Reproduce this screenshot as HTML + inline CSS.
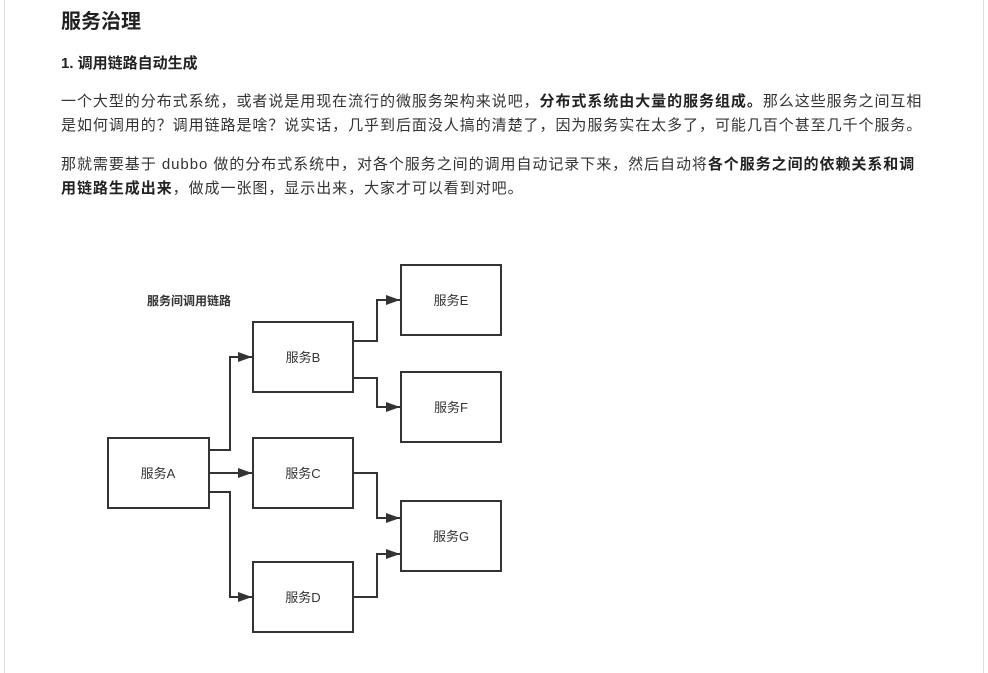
<!DOCTYPE html>
<html><head><meta charset="utf-8"><style>
body{margin:0;width:988px;height:673px;background:#fff;position:relative;overflow:hidden;font-family:"Liberation Sans","Noto Sans CJK SC",sans-serif;color:#333}
.bl{position:absolute;left:4px;top:0;width:1px;height:673px;background:#ddd}
.br{position:absolute;left:983px;top:0;width:1px;height:673px;background:#ddd}
.t{position:absolute;left:61px;white-space:nowrap}
b{color:#222}
</style></head><body>
<div class="bl"></div><div class="br"></div>
<div class="t" style="top:5px;font-size:20px;font-weight:bold;color:#222">服务治理</div>
<div class="t" style="top:52px;font-size:15px;font-weight:bold;color:#222">1. 调用链路自动生成</div>
<div class="t" style="top:90px;font-size:15px;line-height:24px;letter-spacing:0.95px">一个大型的分布式系统，或者说是用现在流行的微服务架构来说吧，<b>分布式系统由大量的服务组成。</b>那么这些服务之间互相<br>是如何调用的？调用链路是啥？说实话，几乎到后面没人搞的清楚了，因为服务实在太多了，可能几百个甚至几千个服务。</div>
<div class="t" style="top:153px;font-size:15px;line-height:24px;letter-spacing:0.95px">那就需要基于 dubbo 做的分布式系统中，对各个服务之间的调用自动记录下来，然后自动将<b>各个服务之间的依赖关系和调<br>用链路生成出来</b>，做成一张图，显示出来，大家才可以看到对吧。</div>
<svg style="position:absolute;left:0;top:0" width="988" height="673">
<defs><marker id="a" markerWidth="14" markerHeight="10" refX="14" refY="5" orient="auto" markerUnits="userSpaceOnUse"><path d="M0,0L14,5L0,10z" fill="#333"/></marker></defs>
<g fill="#fff" stroke="#333" stroke-width="2">
<rect x="108" y="438" width="101" height="70"/>
<rect x="253" y="322" width="100" height="70"/>
<rect x="253" y="438" width="100" height="70"/>
<rect x="253" y="562" width="100" height="70"/>
<rect x="401" y="265" width="100" height="70"/>
<rect x="401" y="372" width="100" height="70"/>
<rect x="401" y="501" width="100" height="70"/>
</g>
<g fill="none" stroke="#333" stroke-width="2" marker-end="url(#a)">
<path d="M209,450H230V357H252"/>
<path d="M209,473H252"/>
<path d="M209,492H230V597H252"/>
<path d="M353,341H377V300H400"/>
<path d="M353,378H377V407H400"/>
<path d="M353,473H377V518H400"/>
<path d="M353,597H377V554H400"/>
</g>
<g font-size="13" fill="#333" text-anchor="middle" font-family="Liberation Sans,Noto Sans CJK SC,sans-serif">
<text x="158" y="478">服务A</text>
<text x="303" y="362">服务B</text>
<text x="303" y="478">服务C</text>
<text x="303" y="602">服务D</text>
<text x="451" y="305">服务E</text>
<text x="451" y="412">服务F</text>
<text x="451" y="541">服务G</text>
<text x="189" y="305" font-size="12" font-weight="bold">服务间调用链路</text>
</g>
</svg>
</body></html>
